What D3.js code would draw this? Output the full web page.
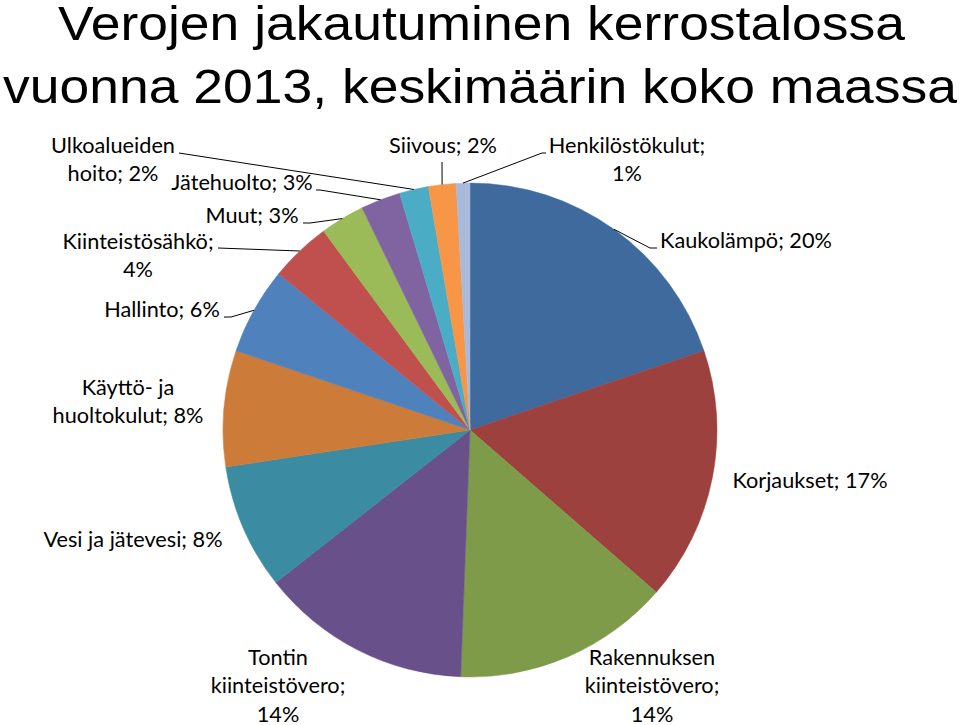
<!DOCTYPE html>
<html>
<head>
  <meta charset="utf-8">
  <script src="https://d3js.org/d3.v7.min.js"></script>
  <style>
    body { margin: 0; background: #fff; }
    svg { display: block; }
  </style>
</head>
<body>
<script>
  // slices, clockwise from twelve o'clock
  var categories = ["Kaukolämpö", "Korjaukset", "Rakennuksen kiinteistövero",
    "Tontin kiinteistövero", "Vesi ja jätevesi", "Käyttö- ja huoltokulut",
    "Hallinto", "Kiinteistösähkö", "Muut", "Jätehuolto", "Ulkoalueiden hoito",
    "Siivous", "Henkilöstökulut"];
  var shares = [19.8, 16.6, 14.2, 13.8, 8.2, 7.6, 5.7, 4.0, 2.9, 2.6, 1.9, 1.8, 0.9];
  var titleLines = ["Verojen jakautuminen kerrostalossa",
    "vuonna 2013, keskimäärin koko maassa"];

  var colors = ["#3F6A9D", "#9D413E", "#7E9B49", "#68518A", "#3B8BA3", "#CC7B38",
    "#4F81BD", "#C0504D", "#9BBB59", "#8064A2", "#4BACC6", "#F79646", "#A8BADB"];

  // label placement: x centre, first baseline, words per line, leader start, kink
  var labelLayout = [
    {x: 746, y: 248, split: null, lead: [657, 248], kink: -7},
    {x: 810, y: 488, split: null, lead: null},
    {x: 652, y: 665, split: [1, 1, 1], lead: null},
    {x: 278, y: 665, split: [1, 1, 1], lead: null},
    {x: 133, y: 547, split: null, lead: null},
    {x: 128, y: 395, split: [2, 2], lead: null},
    {x: 162, y: 317, split: null, lead: [224, 317], kink: 7},
    {x: 138, y: 249, split: [1, 1], lead: [218, 248], kink: 0},
    {x: 252, y: 223, split: null, lead: [303, 223], kink: 7},
    {x: 242, y: 190, split: null, lead: [316, 190], kink: 4},
    {x: 113, y: 153, split: [1, 2], lead: [179, 153], kink: 0},
    {x: 443, y: 153, split: null, lead: [442, 162], kink: 0},
    {x: 627, y: 153, split: [1, 1], lead: [546, 153], kink: -4}
  ];

  var width = 960, height = 725;
  var cx = 470, cy = 430, radius = 247;
  var lineHeight = 28.3;

  var svg = d3.select("body").append("svg")
    .attr("width", width)
    .attr("height", height);

  // title, stretched to the width it has in the original slide
  var titleSpan = [[58, 905, 40], [3, 957, 103]];
  svg.selectAll(".title")
    .data(titleLines)
    .enter()
    .append("text")
      .attr("class", "title")
      .attr("x", function (d, i) { return titleSpan[i][0]; })
      .attr("y", function (d, i) { return titleSpan[i][2]; })
      .attr("textLength", function (d, i) { return titleSpan[i][1] - titleSpan[i][0]; })
      .attr("lengthAdjust", "spacingAndGlyphs")
      .style("font-family", "'Liberation Sans', Arial, sans-serif")
      .style("font-size", "49px")
      .style("fill", "#000")
      .text(function (d) { return d; });

  var data = categories.map(function (c, i) {
    return {name: c, value: shares[i], color: colors[i], layout: labelLayout[i]};
  });

  var pie = d3.pie().sort(null).value(function (d) { return d.value; });
  var arcs = pie(data);

  var arc = d3.arc().innerRadius(0).outerRadius(radius);
  var edge = d3.arc().innerRadius(radius).outerRadius(radius);

  var g = svg.append("g")
    .attr("transform", "translate(" + cx + "," + cy + ")");

  g.selectAll("path.slice")
    .data(arcs)
    .enter()
    .append("path")
      .attr("class", "slice")
      .attr("d", arc)
      .style("fill", function (d) { return d.data.color; })
      .style("stroke", function (d) { return d.data.color; })
      .style("stroke-width", 0.5);

  var total = d3.sum(shares);

  // leader lines
  svg.selectAll("polyline.leader")
    .data(arcs.filter(function (d) { return d.data.layout.lead; }))
    .enter()
    .append("polyline")
      .attr("class", "leader")
      .attr("points", function (d) {
        var L = d.data.layout;
        var c = edge.centroid(d);
        var end = [c[0] + cx, c[1] + cy];
        var pts = [L.lead];
        if (L.kink) pts.push([L.lead[0] + L.kink, L.lead[1]]);
        pts.push(end);
        return pts.map(function (p) { return p.join(","); }).join(" ");
      })
      .style("fill", "none")
      .style("stroke", "#000")
      .style("stroke-width", 1);

  // data labels
  var labels = svg.selectAll("text.label")
    .data(arcs)
    .enter()
    .append("text")
      .attr("class", "label")
      .attr("text-anchor", "middle")
      .style("font-family", "Lato, 'Noto Sans', sans-serif")
      .style("font-size", "21.7px")
      .style("fill", "#000");

  labels.each(function (d) {
    var L = d.data.layout;
    var pct = Math.round(d.data.value / total * 100);
    var words = (d.data.name + "; " + pct + "%").split(" ");
    var split = L.split || [words.length];
    var lines = [], k = 0;
    split.forEach(function (n) {
      lines.push(words.slice(k, k + n).join(" "));
      k += n;
    });
    d3.select(this).selectAll("tspan")
      .data(lines)
      .enter()
      .append("tspan")
        .attr("x", L.x)
        .attr("y", function (t, i) { return L.y + i * lineHeight; })
        .text(function (t) { return t; });
  });
</script>
</body>
</html>
